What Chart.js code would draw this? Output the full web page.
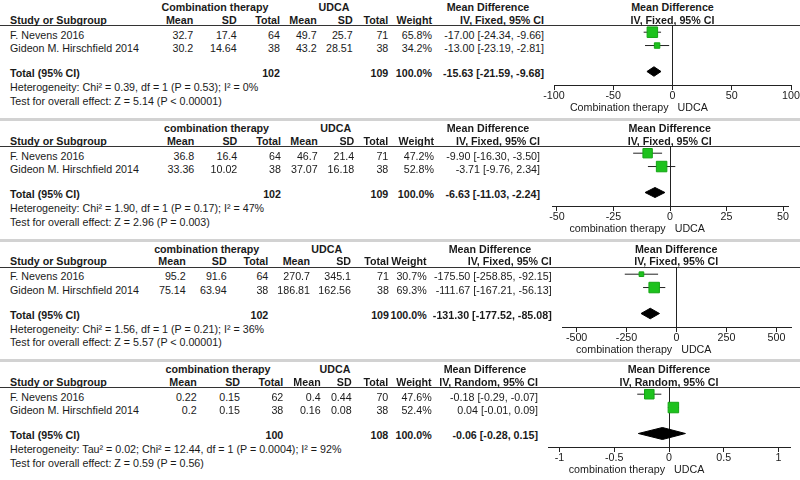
<!DOCTYPE html>
<html>
<head>
<meta charset="utf-8">
<script src="https://cdn.jsdelivr.net/npm/chart.js@4.4.1/dist/chart.umd.min.js"></script>
<style>
body { margin: 0; background: #fff; }
#wrap { position: relative; width: 800px; height: 480px; overflow: hidden; background: #fff;
        font-family: 'Liberation Sans', Arial, sans-serif; font-size: 10.7px; color: #1a1a1a; }
.t { position: absolute; white-space: nowrap; line-height: 12px; }
.b { font-weight: bold; }
.rule { position: absolute; left: 0; width: 800px; height: 1px; background: #333; }
.sep { position: absolute; left: 0; width: 800px; height: 3px; background: #d2d2d2; }
canvas { position: absolute; }
</style>
</head>
<body>
<div id="wrap"></div>
<script>
// study data, one inner array per outcome panel
const studyNames = ['F. Nevens 2016', 'Gideon M. Hirschfield 2014'];
const groupLabels = ['Combination therapy', 'combination therapy', 'combination therapy', 'combination therapy'];
const comboMean = [['32.7', '30.2'], ['36.8', '33.36'], ['95.2', '75.14'], ['0.22', '0.2']];
const comboSD = [['17.4', '14.64'], ['16.4', '10.02'], ['91.6', '63.94'], ['0.15', '0.15']];
const comboN = [[64, 38], [64, 38], [64, 38], [62, 38]];
const udcaMean = [['49.7', '43.2'], ['46.7', '37.07'], ['270.7', '186.81'], ['0.4', '0.16']];
const udcaSD = [['25.7', '28.51'], ['21.4', '16.18'], ['345.1', '162.56'], ['0.44', '0.08']];
const udcaN = [[71, 38], [71, 38], [71, 38], [70, 38]];
const comboTotal = [102, 102, 102, 100];
const udcaTotal = [109, 109, 109, 108];
const weights = [[65.8, 34.2], [47.2, 52.8], [30.7, 69.3], [47.6, 52.4]];
const mdEst = [[-17.00, -13.00], [-9.90, -3.71], [-175.50, -111.67], [-0.18, 0.04]];
const mdLow = [[-24.34, -23.19], [-16.30, -9.76], [-258.85, -167.21], [-0.29, -0.01]];
const mdHigh = [[-9.66, -2.81], [-3.50, 2.34], [-92.15, -56.13], [-0.07, 0.09]];
const totalEst = [-15.63, -6.63, -131.30, -0.06];
const totalLow = [-21.59, -11.03, -177.52, -0.28];
const totalHigh = [-9.68, -2.24, -85.08, 0.15];
const methods = ['IV, Fixed, 95% CI', 'IV, Fixed, 95% CI', 'IV, Fixed, 95% CI', 'IV, Random, 95% CI'];
const heterogeneity = [
    'Heterogeneity: Chi\u00b2 = 0.39, df = 1 (P = 0.53); I\u00b2 = 0%',
    'Heterogeneity: Chi\u00b2 = 1.90, df = 1 (P = 0.17); I\u00b2 = 47%',
    'Heterogeneity: Chi\u00b2 = 1.56, df = 1 (P = 0.21); I\u00b2 = 36%',
    'Heterogeneity: Tau\u00b2 = 0.02; Chi\u00b2 = 12.44, df = 1 (P = 0.0004); I\u00b2 = 92%'
];
const overallTest = [
    'Test for overall effect: Z = 5.14 (P < 0.00001)',
    'Test for overall effect: Z = 2.96 (P = 0.003)',
    'Test for overall effect: Z = 5.57 (P < 0.00001)',
    'Test for overall effect: Z = 0.59 (P = 0.56)'
];
const tickValues = [[-100, -50, 0, 50, 100], [-50, -25, 0, 25, 50], [-500, -250, 0, 250, 500], [-1, -0.5, 0, 0.5, 1]];
const axisLimit = [100, 52.2, 573, 1.105];

// layout (pixels)
const panelTop = [25, 145.8, 266.6, 387.4]; // header rule of each panel
const axisPx = [[554, 791], [551.7, 788], [561.7, 790.7], [548, 790]];
const cols = [
    { m1: 193.3, s1: 236.7, n1: 280, m2: 316.7, s2: 352.7, n2: 388.3, w: 432, ci: 544, g1: 215, g2: 334, md: 488 },
    { m1: 194.3, s1: 237.3, n1: 281, m2: 317.7, s2: 354.3, n2: 388.3, w: 434, ci: 540, g1: 216.5, g2: 335.8, md: 488 },
    { m1: 185.7, s1: 226.7, n1: 268.3, m2: 310, s2: 351, n2: 389, w: 426.7, ci: 551.7, g1: 206.7, g2: 326.7, md: 490 },
    { m1: 196.7, s1: 240, n1: 283.3, m2: 320.7, s2: 351.7, n2: 388.3, w: 431.7, ci: 538, g1: 218, g2: 335, md: 485 }
];
const rowOff = [9.7, 23];
const boxMax = 10.5;
const diamondHalf = [4.75, 5, 5.25, 6];
const pxPerRow = 60 / 4.5;

const wrap = document.getElementById('wrap');

function addText(str, x, y, align, bold) {
    const d = document.createElement('div');
    d.className = 't' + (bold ? ' b' : '');
    d.textContent = str;
    d.style.left = x + 'px';
    d.style.top = (y - 6) + 'px';
    if (align === 'right') d.style.transform = 'translateX(-100%)';
    if (align === 'center') d.style.transform = 'translateX(-50%)';
    wrap.appendChild(d);
}

function fmtCI(est, lo, hi) {
    return est.toFixed(2) + ' [' + lo.toFixed(2) + ', ' + hi.toFixed(2) + ']';
}

function drawTable(p) {
    const U = panelTop[p];
    const c = cols[p];
    const rule = document.createElement('div');
    rule.className = 'rule';
    rule.style.top = U + 'px';
    wrap.appendChild(rule);
    if (p > 0) {
        const sep = document.createElement('div');
        sep.className = 'sep';
        sep.style.top = (U - 28) + 'px';
        wrap.appendChild(sep);
    }
    addText(groupLabels[p], c.g1, U - 18, 'center', true);
    addText('UDCA', c.g2, U - 18, 'center', true);
    addText('Mean Difference', c.md, U - 18, 'center', true);
    addText('Study or Subgroup', 10, U - 5.3, 'left', true);
    addText('Mean', c.m1, U - 5.3, 'right', true);
    addText('SD', c.s1, U - 5.3, 'right', true);
    addText('Total', c.n1, U - 5.3, 'right', true);
    addText('Mean', c.m2, U - 5.3, 'right', true);
    addText('SD', c.s2, U - 5.3, 'right', true);
    addText('Total', c.n2, U - 5.3, 'right', true);
    addText('Weight', c.w, U - 5.3, 'right', true);
    addText(methods[p], c.ci, U - 5.3, 'right', true);

    studyNames.forEach((name, i) => {
        const y = U + rowOff[i];
        addText(name, 10, y, 'left');
        addText(comboMean[p][i], c.m1, y, 'right');
        addText(comboSD[p][i], c.s1, y, 'right');
        addText(String(comboN[p][i]), c.n1, y, 'right');
        addText(udcaMean[p][i], c.m2, y, 'right');
        addText(udcaSD[p][i], c.s2, y, 'right');
        addText(String(udcaN[p][i]), c.n2, y, 'right');
        addText(weights[p][i].toFixed(1) + '%', c.w, y, 'right');
        addText(fmtCI(mdEst[p][i], mdLow[p][i], mdHigh[p][i]), c.ci, y, 'right');
    });

    addText('Total (95% CI)', 10, U + 48, 'left', true);
    addText(String(comboTotal[p]), c.n1, U + 48, 'right', true);
    addText(String(udcaTotal[p]), c.n2, U + 48, 'right', true);
    addText('100.0%', c.w, U + 48, 'right', true);
    addText(fmtCI(totalEst[p], totalLow[p], totalHigh[p]), c.ci, U + 48, 'right', true);
    addText(heterogeneity[p], 10, U + 62, 'left');
    addText(overallTest[p], 10, U + 75.7, 'left');
}

function drawForest(p) {
    const U = panelTop[p];
    const [ax0, ax1] = axisPx[p];
    const pad = 20;
    const canvas = document.createElement('canvas');
    canvas.width = Math.round(ax1 - ax0) + 2 * pad;
    canvas.height = 80;
    canvas.style.left = (ax0 - pad) + 'px';
    canvas.style.top = U + 'px';
    wrap.appendChild(canvas);

    const rowY = studyNames.map((s, i) => i + 7.2 / pxPerRow);
    const totY = 46.5 / pxPerRow;
    const h = diamondHalf[p] / pxPerRow;
    const maxW = Math.max(...weights[p]);

    const datasets = [
        {
            data: mdEst[p].map((v, i) => ({ x: v, y: rowY[i] })),
            pointStyle: 'rect',
            pointRadius: weights[p].map(w => boxMax * w / maxW / Math.SQRT2),
            backgroundColor: '#1ec21e',
            borderColor: '#14a514',
            borderWidth: 1,
            order: 0
        },
        {
            data: [
                { x: totalLow[p], y: totY }, { x: totalEst[p], y: totY - h },
                { x: totalHigh[p], y: totY }, { x: totalEst[p], y: totY + h },
                { x: totalLow[p], y: totY }
            ],
            showLine: true,
            fill: 'shape',
            backgroundColor: '#000',
            borderColor: '#000',
            borderWidth: 1,
            pointRadius: 0,
            order: 0
        }
    ];
    studyNames.forEach((s, i) => {
        datasets.push({
            data: [{ x: mdLow[p][i], y: rowY[i] }, { x: mdHigh[p][i], y: rowY[i] }],
            showLine: true,
            borderColor: '#222',
            borderWidth: 1,
            pointRadius: 0,
            order: 1
        });
    });

    const chart = new Chart(canvas.getContext('2d'), {
        type: 'scatter',
        data: { datasets: datasets },
        options: {
            responsive: false,
            animation: false,
            events: [],
            clip: false,
            layout: { autoPadding: false, padding: { left: pad, right: pad, top: 0, bottom: 0 } },
            plugins: { legend: { display: false }, tooltip: { enabled: false } },
            scales: {
                x: {
                    type: 'linear',
                    min: -axisLimit[p],
                    max: axisLimit[p],
                    afterBuildTicks: (scale) => { scale.ticks = tickValues[p].map(v => ({ value: v })); },
                    afterFit: (scale) => { scale.height = 20; },
                    grid: {
                        color: (ctx) => (ctx.tick && ctx.tick.value === 0 ? '#222' : 'rgba(0,0,0,0)'),
                        tickColor: '#222',
                        tickLength: 5
                    },
                    border: { color: '#222', width: 1 },
                    ticks: {
                        autoSkip: false,
                        maxRotation: 0,
                        padding: 0,
                        color: '#1a1a1a',
                        font: { family: "'Liberation Sans', Arial, sans-serif", size: 10.7 },
                        callback: (v) => String(v)
                    }
                },
                y: { type: 'linear', display: false, min: 0, max: 4.5, reverse: true }
            }
        }
    });

    const zero = ax0 - pad + chart.scales.x.getPixelForValue(0);
    addText('Mean Difference', zero, U - 18, 'center', true);
    addText(methods[p], zero, U - 5.3, 'center', true);
    addText(groupLabels[p], zero - 4, U + 82, 'right');
    addText('UDCA', zero + 5, U + 82, 'left');
}

for (let p = 0; p < 4; p++) {
    drawTable(p);
    drawForest(p);
}
</script>
</body>
</html>
